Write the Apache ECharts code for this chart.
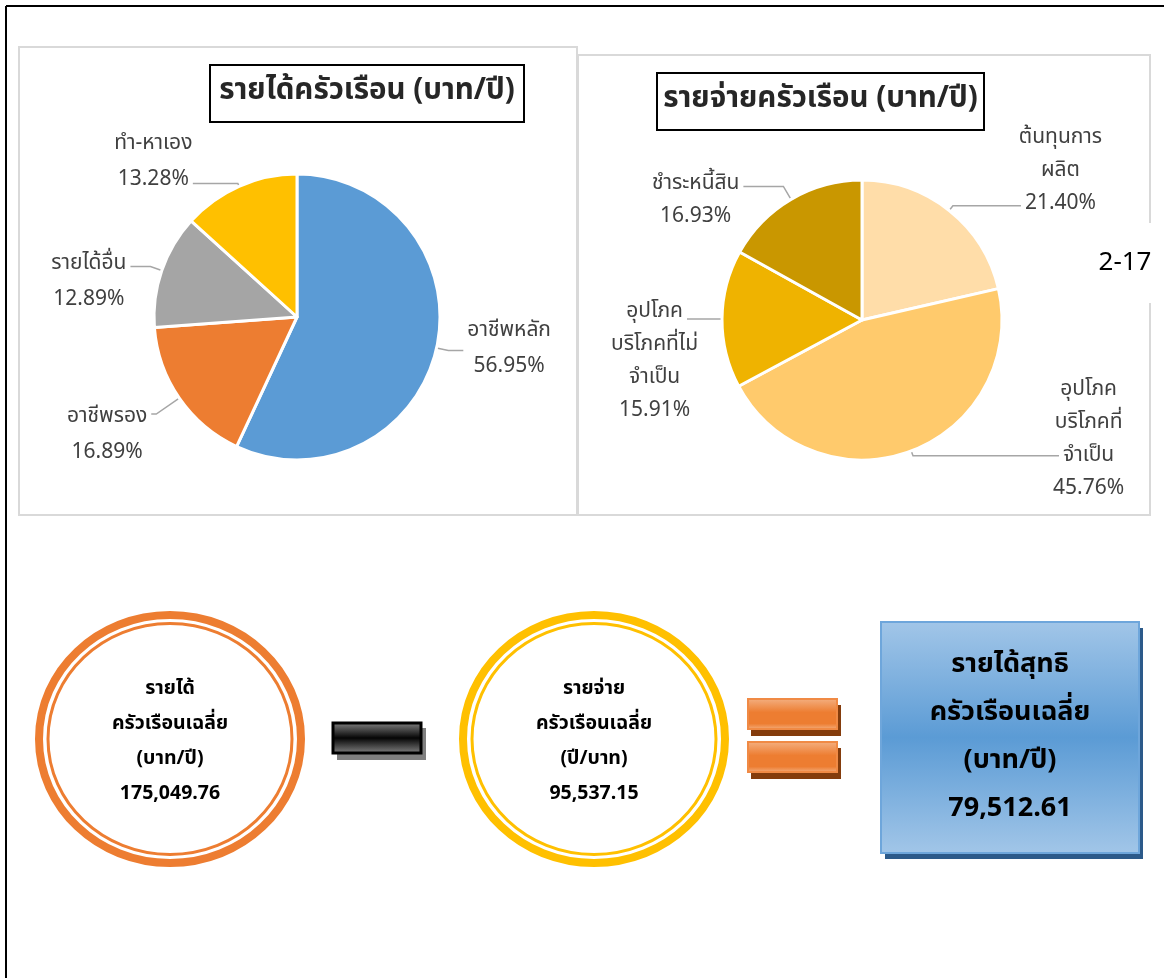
<!DOCTYPE html>
<html><head><meta charset="utf-8">
<script src="https://cdn.jsdelivr.net/npm/echarts@6/dist/echarts.min.js"></script>
<style>html,body{margin:0;padding:0;background:#fff}#c{width:1164px;height:978px}</style>
</head><body><div id="c"></div><script>
// ---- data ----
const chartTitles = ['รายได้ครัวเรือน (บาท/ปี)', 'รายจ่ายครัวเรือน (บาท/ปี)'];
const incomeCategories = ['อาชีพหลัก', 'อาชีพรอง', 'รายได้อื่น', 'ทำ-หาเอง'];
const incomeValues = [56.95, 16.89, 12.89, 13.28];
const expenseCategories = ['ต้นทุนการ\nผลิต', 'อุปโภค\nบริโภคที่\nจำเป็น', 'อุปโภค\nบริโภคที่ไม่\nจำเป็น', 'ชำระหนี้สิน'];
const expenseValues = [21.40, 45.76, 15.91, 16.93];
const summaryTitles = ['รายได้\nครัวเรือนเฉลี่ย\n(บาท/ปี)', 'รายจ่าย\nครัวเรือนเฉลี่ย\n(ปี/บาท)', 'รายได้สุทธิ\nครัวเรือนเฉลี่ย\n(บาท/ปี)'];
const summaryValues = [175049.76, 95537.15, 79512.61];
const pageLabel = '2-17';

// ---- style ----
const FONT = '"Noto Sans Thai", "Noto Sans", "DejaVu Sans", sans-serif';
const LABEL_SIZE = 21;
const incomeColors = ['#5B9BD5', '#ED7D31', '#A5A5A5', '#FFC000'];
const expenseColors = ['#FFDDA9', '#FFCA6C', '#EFB300', '#C99700'];
// which text line (fractional) sits at the leader line end
const incomeAnchor = [0.64, 0.02, 0.17, 1.19];
const expenseAnchor = [2.15, 2.09, 0.3, 0.18];
// leader [length, length2]
const incomeLeader = [[12, 15], [28, 5], [12, 20], [3, 45]];
const expenseLeader = [[6, 68], [5, 146], [5, 30], [15, 40]];
const LABEL_SHIFT_Y = 4;

function fmtNum(v){ return v.toLocaleString('en-US',{minimumFractionDigits:2, maximumFractionDigits:2}); }

const mctx = document.createElement('canvas').getContext('2d');
mctx.font = LABEL_SIZE + 'px ' + FONT;

function makeLayout(anchor, lh){
  return function(p){
    const pts = p.labelLinePoints;
    if(!pts) return {};
    const end = pts[pts.length-1], prev = pts[pts.length-2];
    const sign = end[0] >= prev[0] ? 1 : -1;
    const lines = String(p.text).split('\n');
    const n = lines.length;
    const a = anchor[p.dataIndex];
    const idx = Math.max(0, Math.min(n-1, Math.floor(a)));
    const wa = mctx.measureText(lines[idx]).width;
    const cy = end[1] - (a - (n-1)/2) * lh + LABEL_SHIFT_Y;
    const cx = end[0] + sign * (wa/2 + 4);
    return {x: cx, y: cy, align: 'center', verticalAlign: 'middle', labelLinePoints: pts};
  };
}

function pieSeries(names, values, colors, leader, center, r, lh, anchor){
  return {
    type: 'pie', center: center, radius: r, startAngle: 90, clockwise: true,
    animation: false, emphasis: {disabled: true}, z: 5,
    data: names.map((n,i)=>({name:n, value:values[i], itemStyle:{color:colors[i]},
      labelLine:{length:leader[i][0], length2:leader[i][1]}})),
    itemStyle: {borderColor: '#fff', borderWidth: 3},
    label: {show: true, position: 'outside', color: '#404040', fontSize: LABEL_SIZE, lineHeight: lh,
      fontFamily: FONT, formatter: p => p.name + '\n' + p.value.toFixed(2) + '%'},
    labelLine: {show: true, lineStyle: {color: '#A6A6A6', width: 1.5}},
    labelLayout: makeLayout(anchor, lh)
  };
}

const grad = (stops) => ({type:'linear', x:0, y:0, x2:0, y2:1, colorStops: stops.map(s=>({offset:s[0], color:s[1]}))});

const g = [];
// outer frame
g.push({type:'line', shape:{x1:6, y1:6, x2:1164, y2:6}, style:{stroke:'#000', lineWidth:2}});
g.push({type:'line', shape:{x1:6, y1:6, x2:6, y2:978}, style:{stroke:'#000', lineWidth:2}});
// panels
g.push({type:'rect', shape:{x:19, y:47, width:558, height:468}, style:{fill:'#fff', stroke:'#D9D9D9', lineWidth:2}, z:0});
g.push({type:'rect', shape:{x:578, y:55, width:572, height:460}, style:{fill:'#fff', stroke:'#D9D9D9', lineWidth:2}, z:0});
// page label
g.push({type:'rect', shape:{x:1090, y:223, width:74, height:80}, style:{fill:'#fff'}, z:1});
g.push({type:'text', x:1125, y:265, style:{text:pageLabel, fill:'#000', fontSize:26, fontFamily:FONT, align:'center', verticalAlign:'middle'}, z:2});
// title boxes
[[210, 65, 314, 57, chartTitles[0]], [657, 73, 327, 57, chartTitles[1]]].forEach(t=>{
  g.push({type:'rect', shape:{x:t[0], y:t[1], width:t[2], height:t[3]}, style:{fill:'#fff', stroke:'#000', lineWidth:2}, z:10});
  g.push({type:'text', x:t[0]+t[2]/2, y:t[1]+t[3]/2, style:{text:t[4], fill:'#262626', fontSize:29.5, fontWeight:'bold', fontFamily:FONT, align:'center', verticalAlign:'middle'}, z:11});
});
// circles
[[170, '#ED7D31'], [594, '#FFC000']].forEach((c,i)=>{
  g.push({type:'ellipse', shape:{cx:c[0], cy:739, rx:131, ry:124}, style:{fill:'#fff', stroke:c[1], lineWidth:8}, z:3});
  g.push({type:'ellipse', shape:{cx:c[0], cy:739, rx:122, ry:115.5}, style:{fill:'none', stroke:c[1], lineWidth:3}, z:3});
  g.push({type:'text', x:c[0], y:743, style:{text: summaryTitles[i] + '\n' + fmtNum(summaryValues[i]), fill:'#000', fontSize:19.5, fontWeight:'bold', lineHeight:35, fontFamily:FONT, align:'center', verticalAlign:'middle'}, z:4});
});
// minus bar
g.push({type:'rect', shape:{x:337, y:728, width:89, height:32}, style:{fill:'#808080'}, z:3});
g.push({type:'rect', shape:{x:333, y:723, width:88, height:30}, style:{fill:grad([[0,'#8a8a8a'],[0.5,'#050505'],[1,'#8a8a8a']]), stroke:'#000', lineWidth:3}, z:4});
// equals bars
[699, 742].forEach(y=>{
  g.push({type:'rect', shape:{x:751, y:y+6, width:90, height:31}, style:{fill:'#843C0C'}, z:3});
  g.push({type:'rect', shape:{x:748, y:y, width:89, height:30}, style:{fill:grad([[0,'#F4B183'],[0.45,'#ED7D31'],[0.8,'#ED7D31'],[1,'#F4B183']]), stroke:'#F08A45', lineWidth:2}, z:4});
});
// blue result box
g.push({type:'rect', shape:{x:885, y:628, width:258, height:231}, style:{fill:'#2C5A8A'}, z:3});
g.push({type:'rect', shape:{x:881, y:622, width:258, height:231}, style:{fill:grad([[0,'#A2C6E8'],[0.5,'#5B9BD5'],[1,'#A2C6E8']]), stroke:'#6EA6DB', lineWidth:2}, z:4});
g.push({type:'text', x:1010, y:739, style:{text: summaryTitles[2] + '\n' + fmtNum(summaryValues[2]), fill:'#000', fontSize:27, fontWeight:'bold', lineHeight:48, fontFamily:FONT, align:'center', verticalAlign:'middle'}, z:5});

const chart = echarts.init(document.getElementById('c'));
chart.setOption({
  animation: false,
  backgroundColor: '#fff',
  graphic: {elements: g},
  series: [
    pieSeries(incomeCategories, incomeValues, incomeColors, incomeLeader, [297, 317], 143, 36, incomeAnchor),
    pieSeries(expenseCategories, expenseValues, expenseColors, expenseLeader, [862, 320], 140, 33, expenseAnchor)
  ]
});
</script></body></html>
